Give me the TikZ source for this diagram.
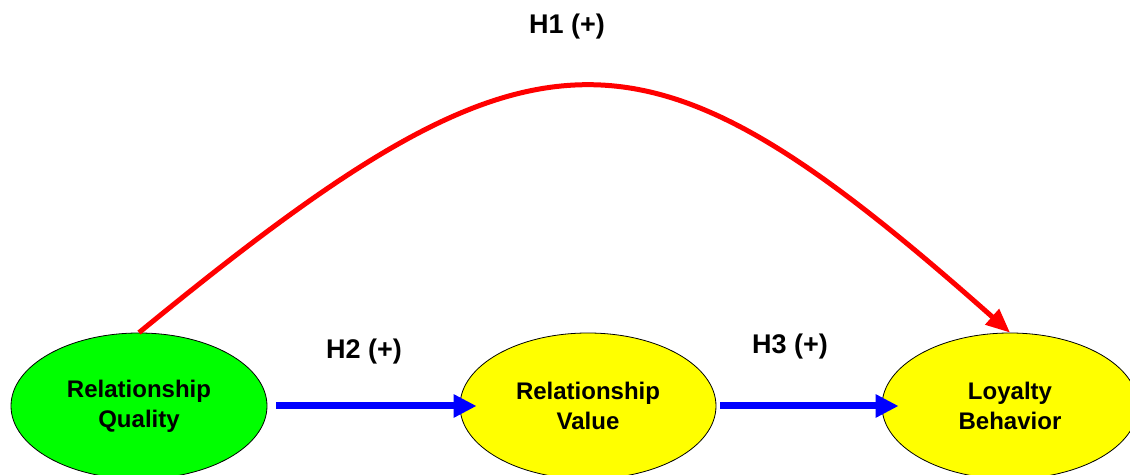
\documentclass[tikz,border=0pt]{standalone}
\usepackage{fontspec}
\setmainfont{Liberation Sans}
\usetikzlibrary{shapes.geometric,arrows.meta}
\definecolor{cgreen}{RGB}{0,255,0}
\definecolor{cyellow}{RGB}{255,255,0}
\definecolor{cblue}{RGB}{0,0,255}
\definecolor{cred}{RGB}{255,0,0}
\begin{document}
\begin{tikzpicture}[x=1pt,y=1pt,
  construct/.style={ellipse,draw=black,line width=0.8pt,minimum width=256pt,minimum height=146pt,inner sep=0pt,align=center,font=\fontsize{24}{30}\selectfont\bfseries},
  hyp/.style={font=\fontsize{27}{30}\selectfont\bfseries},
  bluearrow/.style={draw=cblue,line width=7pt,-{Triangle[length=23pt,width=22pt]}},
  redarrow/.style={draw=cred,line width=5pt,-{Triangle[length=24pt,width=20pt]}}]
\useasboundingbox (0,0) rectangle (1130,474);
\node[construct,fill=cgreen] (q) at (139,68) {Relationship\\Quality};
\node[construct,fill=cyellow] (v) at (588,68) {Relationship\\Value};
\node[construct,fill=cyellow] (l) at (1010,68) {Loyalty\\Behavior};
\draw[bluearrow] ([xshift=9pt]q.east) -- ([xshift=17pt]v.west);
\draw[bluearrow] ([xshift=4pt]v.east) -- ([xshift=17pt]l.west);
\draw[redarrow] (q.north) .. controls +(400,328) and +(-370,328) .. (l.north);
\node[hyp] (h1) at (567,447) {H1 (+)};
\node[hyp] (h2) at (364,122) {H2 (+)};
\node[hyp] (h3) at (790,127) {H3 (+)};
\end{tikzpicture}
\end{document}
